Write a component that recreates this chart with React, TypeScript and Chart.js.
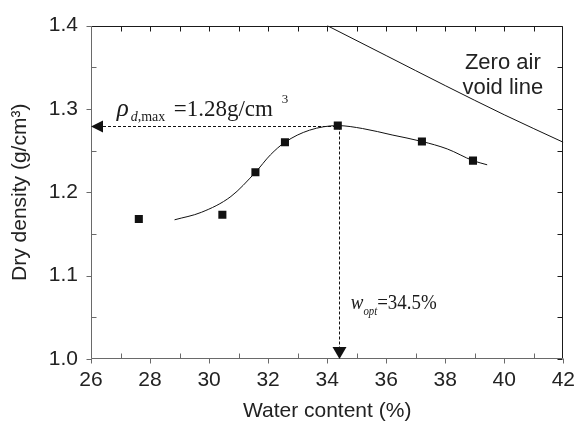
import React, { useEffect, useRef } from 'react';
import { Chart, registerables } from 'chart.js';

Chart.register(...registerables);

// Measured compaction points
const waterContent = [27.62, 30.45, 31.57, 32.57, 34.36, 37.21, 38.94];
const dryDensity = [1.168, 1.173, 1.224, 1.26, 1.28, 1.261, 1.238];

// Fitted compaction curve
const fitWater = [28.83, 29.74, 30.74, 31.57, 32.08, 32.57, 33.4, 34.36, 35.2, 36.2, 37.21, 38.07, 38.94, 39.42];
const fitDensity = [1.167, 1.176, 1.195, 1.224, 1.245, 1.26, 1.2745, 1.28, 1.2765, 1.2688, 1.261, 1.252, 1.238, 1.233];

// Zero air void line
const zavWater = [34, 36, 38, 40, 42];
const zavDensity = [1.4, 1.364, 1.328, 1.293, 1.26];

// Axis ticks
const xMajorTicks = [26, 28, 30, 32, 34, 36, 38, 40, 42];
const xMinorTicks = [27, 29, 31, 33, 35, 37, 39, 41];
const yMajorTicks = [1.0, 1.1, 1.2, 1.3, 1.4];
const yMinorTicks = [1.05, 1.15, 1.25, 1.35];

// Optimum point annotation
const optWater = 34.4;
const maxDensity = 1.28;

const SANS = "'Liberation Sans', Arial, sans-serif";
const SERIF = "'Liberation Serif', 'Times New Roman', serif";

function txt(ctx: CanvasRenderingContext2D, s: string, x: number, y: number, font: string, sx = 1): number {
  ctx.save();
  ctx.font = font;
  ctx.translate(x, y);
  ctx.scale(sx, 1);
  ctx.fillText(s, 0, 0);
  const w = ctx.measureText(s).width * sx;
  ctx.restore();
  return w;
}

const framePlugin = {
  id: 'framePlugin',
  afterDraw(chart: any) {
    const { ctx, chartArea: a, scales } = chart;
    const xs = scales.x;
    const ys = scales.y;
    const L = Math.round(a.left) + 0.5;
    const R = Math.round(a.right) - 0.5;
    const T = Math.round(a.top) + 0.5;
    const B = Math.round(a.bottom) - 0.5;
    const px = (v: number) => Math.round(xs.getPixelForValue(v)) + 0.5;
    const py = (v: number) => Math.round(ys.getPixelForValue(v)) + 0.5;
    const tk = 5;

    ctx.save();
    ctx.lineWidth = 1;
    ctx.setLineDash([]);

    // top & right (dark)
    ctx.strokeStyle = '#1a1a1a';
    ctx.beginPath();
    ctx.moveTo(L, T); ctx.lineTo(R, T); ctx.lineTo(R, B);
    for (let v = 27; v <= 41; v++) { ctx.moveTo(px(v), T); ctx.lineTo(px(v), T + tk); }
    [...yMajorTicks, ...yMinorTicks].forEach((v) => { ctx.moveTo(R, py(v)); ctx.lineTo(R - tk, py(v)); });
    ctx.stroke();

    // left & bottom (grey)
    ctx.strokeStyle = '#6a6a6a';
    ctx.beginPath();
    ctx.moveTo(L, T); ctx.lineTo(L, B); ctx.lineTo(R, B);
    yMajorTicks.forEach((v) => { ctx.moveTo(L, py(v)); ctx.lineTo(L - tk, py(v)); });
    yMinorTicks.forEach((v) => { ctx.moveTo(L, py(v)); ctx.lineTo(L + tk, py(v)); });
    xMajorTicks.forEach((v) => { ctx.moveTo(px(v), B); ctx.lineTo(px(v), B + tk); });
    xMinorTicks.forEach((v) => { ctx.moveTo(px(v), B); ctx.lineTo(px(v), B - tk); });
    ctx.stroke();

    // dashed guide lines
    const ox = px(optWater);
    const oy = py(maxDensity);
    const arrowLen = 12;
    ctx.strokeStyle = '#111';
    ctx.setLineDash([3, 2]);
    ctx.beginPath();
    ctx.moveTo(a.left + arrowLen, oy); ctx.lineTo(ox, oy);
    ctx.moveTo(ox, oy); ctx.lineTo(ox, a.bottom - arrowLen);
    ctx.stroke();
    ctx.setLineDash([]);

    // arrow heads
    ctx.fillStyle = '#111';
    ctx.beginPath();
    ctx.moveTo(a.left, oy); ctx.lineTo(a.left + arrowLen, oy - 6); ctx.lineTo(a.left + arrowLen, oy + 6); ctx.closePath();
    ctx.fill();
    ctx.beginPath();
    ctx.moveTo(ox, a.bottom); ctx.lineTo(ox - 7, a.bottom - arrowLen); ctx.lineTo(ox + 7, a.bottom - arrowLen); ctx.closePath();
    ctx.fill();

    // rho annotation
    ctx.fillStyle = '#1a1a1a';
    ctx.textBaseline = 'alphabetic';
    ctx.textAlign = 'left';
    let x0 = xs.getPixelForValue(26.87);
    const b1 = ys.getPixelForValue(1.2921);
    x0 += txt(ctx, 'ρ', x0, b1, `italic 25px ${SERIF}`);
    x0 += txt(ctx, 'd', x0 + 2, b1 + 5, `italic 14px ${SERIF}`) + 2;
    txt(ctx, ',max', x0, b1 + 5, `14px ${SERIF}`);
    const x1 = xs.getPixelForValue(28.8);
    const w1 = txt(ctx, '=1.28g/cm', x1, b1, `23px ${SERIF}`);
    txt(ctx, '3', x1 + w1 + 9, b1 - 13, `13px ${SERIF}`);

    // w_opt annotation
    let x2 = xs.getPixelForValue(34.8);
    const b2 = ys.getPixelForValue(1.0595);
    x2 += txt(ctx, 'w', x2, b2, `italic 21px ${SERIF}`, 0.9);
    x2 += txt(ctx, 'opt', x2, b2 + 6, `italic 12px ${SERIF}`, 0.9);
    txt(ctx, '=34.5%', x2, b2, `21px ${SERIF}`, 0.9);

    // zero air void label
    ctx.textAlign = 'center';
    ctx.fillStyle = '#222';
    const cx = xs.getPixelForValue(39.95);
    ctx.font = `22px ${SANS}`;
    ctx.fillText('Zero air', cx, ys.getPixelForValue(1.3475));
    ctx.fillText('void line', cx, ys.getPixelForValue(1.318));

    ctx.restore();
  },
};

export default function App() {
  const ref = useRef<HTMLCanvasElement>(null);

  useEffect(() => {
    document.body.style.margin = '0';
    const chart = new Chart(ref.current as HTMLCanvasElement, {
      type: 'scatter',
      data: {
        datasets: [
          {
            label: 'Measured',
            data: waterContent.map((w, i) => ({ x: w, y: dryDensity[i] })),
            pointStyle: 'rect',
            pointRadius: 5.7,
            pointHoverRadius: 5.7,
            backgroundColor: '#111',
            borderColor: '#111',
            borderWidth: 0,
            showLine: false,
          },
          {
            label: 'Fit',
            data: fitWater.map((w, i) => ({ x: w, y: fitDensity[i] })),
            showLine: true,
            pointRadius: 0,
            borderColor: '#111',
            borderWidth: 1,
            tension: 0.4,
            cubicInterpolationMode: 'monotone',
          },
          {
            label: 'Zero air void line',
            data: zavWater.map((w, i) => ({ x: w, y: zavDensity[i] })),
            showLine: true,
            pointRadius: 0,
            borderColor: '#111',
            borderWidth: 1,
            tension: 0.4,
            cubicInterpolationMode: 'monotone',
          },
        ],
      } as any,
      options: {
        responsive: false,
        animation: false,
        events: [],
        layout: { padding: { top: 18, right: 13, left: 0, bottom: 0 } },
        plugins: { legend: { display: false }, tooltip: { enabled: false } },
        scales: {
          x: {
            type: 'linear',
            min: 26,
            max: 42,
            grid: { display: false, drawTicks: false },
            border: { display: false },
            ticks: {
              stepSize: 2,
              autoSkip: false,
              maxRotation: 0,
              padding: 9,
              color: '#222',
              font: { family: SANS, size: 21 },
            },
            title: {
              display: true,
              text: 'Water content (%)',
              color: '#222',
              font: { family: SANS, size: 21 },
              padding: { top: 0, bottom: 1 },
            },
            afterFit: (s: any) => { s.height = 66; },
          },
          y: {
            type: 'linear',
            min: 1.0,
            max: 1.4,
            grid: { display: false, drawTicks: false },
            border: { display: false },
            ticks: {
              stepSize: 0.1,
              padding: 13,
              color: '#222',
              font: { family: SANS, size: 21 },
              callback: (v: any) => Number(v).toFixed(1),
            },
            title: {
              display: true,
              text: 'Dry density (g/cm³)',
              color: '#222',
              font: { family: SANS, size: 21 },
              padding: { top: 8, bottom: 0 },
            },
            afterFit: (s: any) => { s.width = 91; },
          },
        },
      } as any,
      plugins: [framePlugin],
    });
    return () => chart.destroy();
  }, []);

  return <canvas ref={ref} width={584} height={425} style={{ display: 'block' }} />;
}
